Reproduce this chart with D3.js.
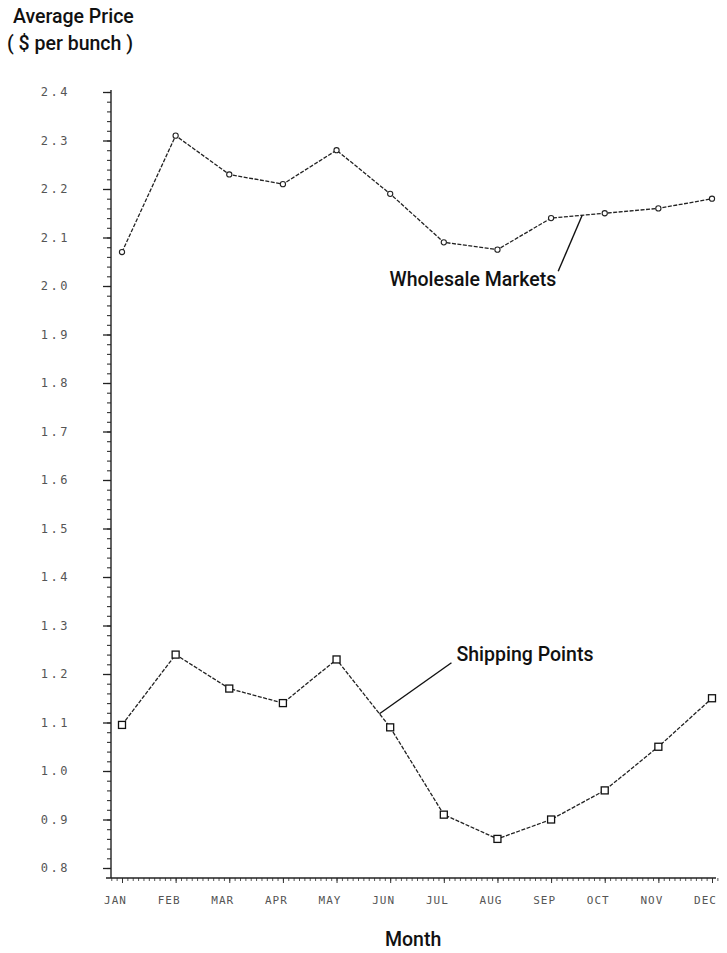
<!DOCTYPE html>
<html>
<head>
<meta charset="utf-8">
<script src="https://cdn.jsdelivr.net/npm/d3@7"></script>
<style>
  html, body { margin: 0; padding: 0; background: #fff; }
  svg { display: block; }
  .title { font-family: Roboto, "Liberation Sans", Arial, sans-serif; font-weight: 500; font-size: 19.5px; fill: #111; }
  .tick text { font-family: "DejaVu Sans Mono", monospace; fill: #555; }
</style>
</head>
<body>
<script>
// ---- Data ----
const months = ["JAN","FEB","MAR","APR","MAY","JUN","JUL","AUG","SEP","OCT","NOV","DEC"];
const wholesale = [2.07, 2.31, 2.23, 2.21, 2.28, 2.19, 2.09, 2.075, 2.14, 2.15, 2.16, 2.18];
const shipping  = [1.095, 1.24, 1.17, 1.14, 1.23, 1.09, 0.91, 0.86, 0.90, 0.96, 1.05, 1.15];
const yTicks = [0.8, 0.9, 1.0, 1.1, 1.2, 1.3, 1.4, 1.5, 1.6, 1.7, 1.8, 1.9, 2.0, 2.1, 2.2, 2.3, 2.4];
const yTickLabels = ["0.8","0.9","1.0","1.1","1.2","1.3","1.4","1.5","1.6","1.7","1.8","1.9","2.0","2.1","2.2","2.3","2.4"];

const W = 727, H = 953;
const svg = d3.select("body").append("svg").attr("width", W).attr("height", H);

const x = d3.scalePoint().domain(months).range([122, 712]);
const xi = d3.scaleLinear().domain([0, 11]).range([122, 712]);
const y = d3.scaleLinear().domain([0.8, 2.4]).range([868, 92]);

const axisX = 111, axisY = 878;

// Titles
svg.append("text").attr("class","title").attr("x", 13).attr("y", 23).text("Average Price");
svg.append("text").attr("class","title").attr("x", 7).attr("y", 50).text("( $ per bunch )");
svg.append("text").attr("class","title").attr("x", 385).attr("y", 946).text("Month");

// Y axis minor ticks
const yMinor = svg.append("g").attr("transform", `translate(${axisX},0)`)
  .call(d3.axisLeft(y).tickValues(d3.range(0.8, 2.401, 0.02)).tickSize(4).tickFormat(""));
yMinor.select(".domain").remove();
yMinor.selectAll(".tick line").attr("stroke", "#333").attr("stroke-width", 1.1);

// Y axis major ticks + labels
const yMajor = svg.append("g").attr("transform", `translate(${axisX},0)`)
  .call(d3.axisLeft(y).tickValues(yTicks).tickSize(8).tickPadding(33)
        .tickFormat((d, i) => yTickLabels[i]));
yMajor.select(".domain").remove();
yMajor.selectAll(".tick line").attr("stroke", "#222").attr("stroke-width", 1.3);
yMajor.selectAll(".tick text").attr("font-size", 12).attr("letter-spacing", "2.5px");

// Y axis line
svg.append("line").attr("x1", axisX).attr("x2", axisX).attr("y1", y(2.4) - 2).attr("y2", axisY)
  .attr("stroke", "#222").attr("stroke-width", 1.4);

// X axis minor ticks
const xMinor = svg.append("g").attr("transform", `translate(0,${axisY})`)
  .call(d3.axisBottom(xi).tickValues(d3.range(-0.2, 11.15, 0.1)).tickSize(3).tickFormat(""));
xMinor.select(".domain").remove();
xMinor.selectAll(".tick line").attr("stroke", "#444").attr("stroke-width", 0.9);

// X axis major ticks + labels
const xMajor = svg.append("g").attr("transform", `translate(0,${axisY})`)
  .call(d3.axisBottom(x).tickSize(5).tickPadding(13));
xMajor.select(".domain").remove();
xMajor.selectAll(".tick line").attr("stroke", "#333").attr("stroke-width", 1);
xMajor.selectAll(".tick text").attr("font-size", 11).attr("letter-spacing", "1px").attr("dx", -7);

// X axis line
svg.append("line").attr("x1", axisX - 5).attr("x2", xi(11) + 4).attr("y1", axisY).attr("y2", axisY)
  .attr("stroke", "#222").attr("stroke-width", 1.7);

// Lines
const line = d3.line().x((d, i) => x(months[i])).y(d => y(d));

svg.append("path").datum(wholesale).attr("d", line)
  .attr("fill", "none").attr("stroke", "#222").attr("stroke-width", 1.3)
  .attr("stroke-dasharray", "4,1.5");
svg.append("path").datum(shipping).attr("d", line)
  .attr("fill", "none").attr("stroke", "#222").attr("stroke-width", 1.3)
  .attr("stroke-dasharray", "4,1.5");

// Markers
svg.append("g").selectAll("circle").data(wholesale).join("circle")
  .attr("cx", (d, i) => x(months[i])).attr("cy", d => y(d)).attr("r", 2.6)
  .attr("fill", "#fff").attr("stroke", "#222").attr("stroke-width", 1.1);
svg.append("g").selectAll("rect").data(shipping).join("rect")
  .attr("x", (d, i) => x(months[i]) - 3.5).attr("y", d => y(d) - 3.5)
  .attr("width", 7).attr("height", 7)
  .attr("fill", "#fff").attr("stroke", "#111").attr("stroke-width", 1.3);

// Annotations
function along(arr, i, t) {
  return [xi(i + t), y(arr[i] + t * (arr[i + 1] - arr[i]))];
}
const [wx, wy] = along(wholesale, 8, 0.58);
svg.append("line").attr("x1", wx).attr("y1", wy).attr("x2", wx - 24).attr("y2", wy + 56)
  .attr("stroke", "#111").attr("stroke-width", 1.4);
svg.append("text").attr("class","title").attr("x", wx - 26).attr("y", wy + 71)
  .attr("text-anchor", "end").text("Wholesale Markets");

const [sx, sy] = along(shipping, 4, 0.8);
svg.append("line").attr("x1", sx).attr("y1", sy).attr("x2", sx + 72).attr("y2", sy - 51)
  .attr("stroke", "#111").attr("stroke-width", 1.4);
svg.append("text").attr("class","title").attr("x", sx + 77).attr("y", sy - 53)
  .text("Shipping Points");
</script>
</body>
</html>
